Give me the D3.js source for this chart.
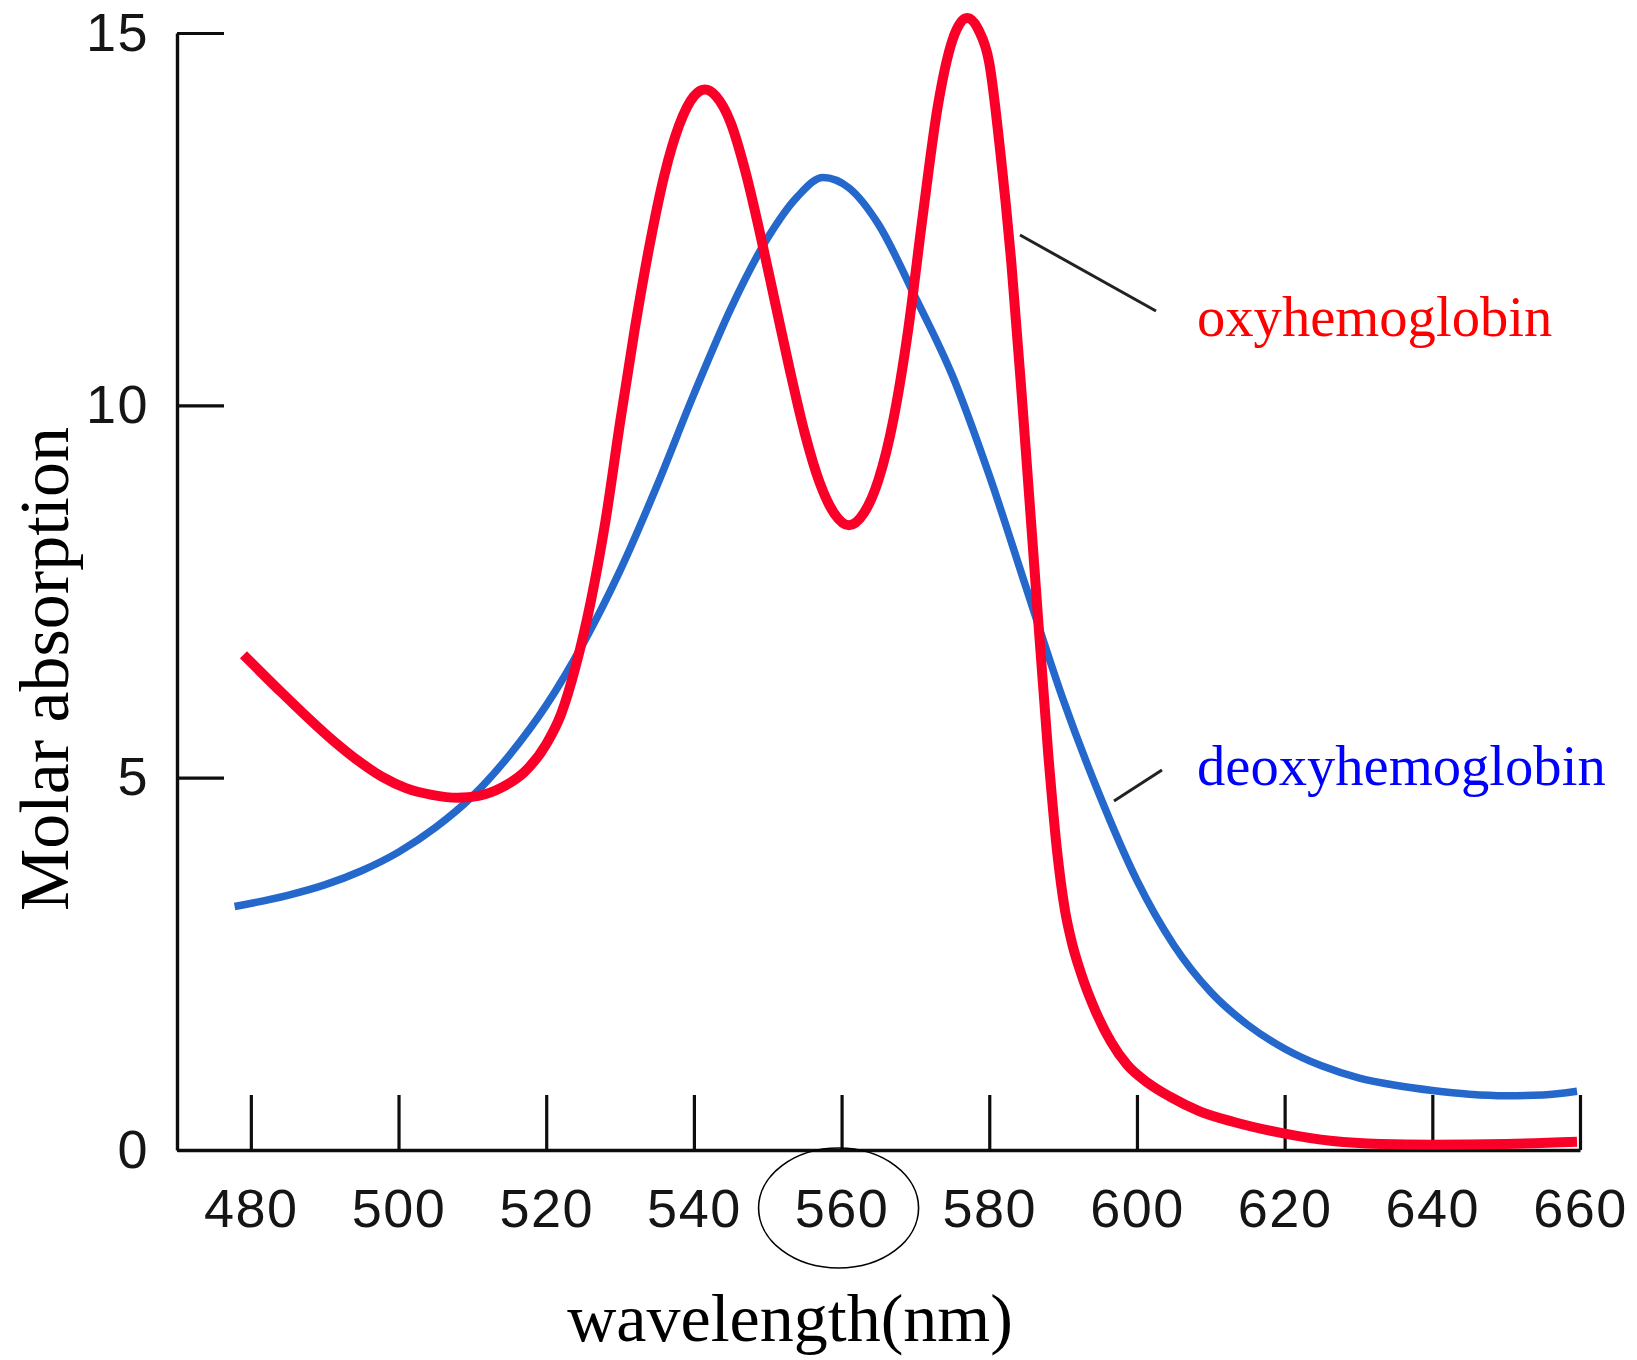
<!DOCTYPE html>
<html>
<head>
<meta charset="utf-8">
<script src="https://cdn.jsdelivr.net/npm/d3@7"></script>
<style>
  html, body { margin: 0; padding: 0; background: #ffffff; }
  svg { display: block; }
</style>
</head>
<body>
<svg id="chart" width="1637" height="1360"></svg>
<script>
// ---- data ----
const oxyWavelengths = [479, 484.2, 491, 494.5, 497.8, 501, 504.5, 508, 511, 514, 517, 520, 522, 524, 526, 528, 530, 532, 534, 536, 538, 540, 541.5, 543, 545, 547, 549, 551, 553, 555, 557, 559, 561, 563, 565, 567, 569, 571, 573, 575, 577, 578.5, 580, 581.5, 583, 584.5, 586.2, 588, 589.2, 590.2, 591.2, 592.4, 594.5, 596.5, 598.7, 601.5, 604.4, 608.5, 613, 619.5, 626.5, 633, 640, 650, 659.6];
const oxyValues = [6.65, 6.14, 5.51, 5.23, 5.01, 4.86, 4.77, 4.73, 4.76, 4.87, 5.07, 5.45, 5.85, 6.5, 7.35, 8.43, 9.77, 11.03, 12.15, 13.09, 13.76, 14.15, 14.24, 14.15, 13.79, 13.13, 12.29, 11.38, 10.47, 9.63, 8.97, 8.55, 8.39, 8.55, 9.0, 9.8, 11.0, 12.55, 14.0, 14.9, 15.2, 15.05, 14.6, 13.4, 11.9, 10.0, 7.7, 5.3, 4.0, 3.25, 2.78, 2.38, 1.84, 1.45, 1.14, 0.90, 0.72, 0.52, 0.38, 0.23, 0.12, 0.08, 0.07, 0.08, 0.11];

const deoxyWavelengths = [477.8, 485, 490, 495, 500, 505, 510, 515, 520, 525, 530, 535, 540, 545, 550, 554, 557.5, 561, 565, 570, 575, 580, 585, 590, 595, 600, 605, 610, 615, 620, 625, 630, 635, 640, 645, 650, 655, 659.6];
const deoxyValues = [3.27, 3.42, 3.56, 3.75, 4.00, 4.33, 4.75, 5.30, 5.97, 6.80, 7.78, 8.92, 10.15, 11.30, 12.25, 12.80, 13.06, 12.92, 12.43, 11.45, 10.40, 9.06, 7.55, 6.05, 4.75, 3.62, 2.75, 2.12, 1.68, 1.36, 1.13, 0.97, 0.87, 0.80, 0.75, 0.73, 0.74, 0.79];

const xTicks = [480, 500, 520, 540, 560, 580, 600, 620, 640, 660];
const yTicks = [0, 5, 10, 15];
const seriesNames = ["oxyhemoglobin", "deoxyhemoglobin"];
const xTitle = "wavelength(nm)";
const yTitle = "Molar absorption";
const circledTick = 560;

// ---- layout ----
const svg = d3.select("#chart");
const x = d3.scaleLinear().domain([470, 660]).range([177, 1580]);
const y = d3.scaleLinear().domain([0, 15]).range([1150, 33]);

const serif = "'Liberation Serif', 'Times New Roman', serif";
const sans = "'Liberation Sans', Arial, sans-serif";

// axes
const xAxis = d3.axisBottom(x).tickValues(xTicks).tickSize(-55).tickSizeOuter(0).tickPadding(39).tickFormat(d3.format("d"));
const gx = svg.append("g").attr("transform", `translate(0,${y(0)})`).call(xAxis);
const yAxis = d3.axisLeft(y).tickValues(yTicks).tickSize(-47).tickSizeOuter(0).tickPadding(28).tickFormat(d3.format("d"));
const gy = svg.append("g").attr("transform", `translate(${x(470)},0)`).call(yAxis);

[gx, gy].forEach(g => {
  g.select(".domain").attr("stroke", "#0d0d0d").attr("stroke-width", 3.4);
  g.selectAll(".tick line").attr("stroke", "#0d0d0d").attr("stroke-width", 3.2);
  g.selectAll(".tick text").attr("fill", "#151515").style("font-family", sans).style("font-size", "54px").style("letter-spacing", "1.5px");
});

// curves
const line = d3.line().x(d => x(d[0])).y(d => y(d[1])).curve(d3.curveMonotoneX);
const deoxy = deoxyWavelengths.map((w, i) => [w, deoxyValues[i]]);
const oxy = oxyWavelengths.map((w, i) => [w, oxyValues[i]]);

svg.append("path").datum(deoxy).attr("d", line).attr("fill", "none")
  .attr("stroke", "#2468cc").attr("stroke-width", 7.5).attr("stroke-linecap", "butt");
svg.append("path").datum(oxy).attr("d", line).attr("fill", "none")
  .attr("stroke", "#fa0028").attr("stroke-width", 10).attr("stroke-linecap", "butt");

// leader lines & labels
svg.append("line").attr("x1", 1020).attr("y1", 235).attr("x2", 1156).attr("y2", 311)
  .attr("stroke", "#222").attr("stroke-width", 3);
svg.append("line").attr("x1", 1114).attr("y1", 801).attr("x2", 1162).attr("y2", 770)
  .attr("stroke", "#222").attr("stroke-width", 3);

svg.append("text").attr("x", 1197).attr("y", 336).text(seriesNames[0])
  .attr("fill", "#ff0000").style("font-family", serif).style("font-size", "56.6px");
svg.append("text").attr("x", 1197).attr("y", 785).text(seriesNames[1])
  .attr("fill", "#0000ff").style("font-family", serif).style("font-size", "56.6px");

// axis titles
svg.append("text").attr("x", 790).attr("y", 1341).attr("text-anchor", "middle").text(xTitle)
  .attr("fill", "#000").style("font-family", serif).style("font-size", "68px");
svg.append("text").attr("transform", "translate(68,669) rotate(-90)").attr("text-anchor", "middle").text(yTitle)
  .attr("fill", "#000").style("font-family", serif).style("font-size", "70px");

// circle around the 560 tick label
svg.append("ellipse").attr("cx", x(circledTick) - 3).attr("cy", 1208).attr("rx", 80).attr("ry", 60)
  .attr("fill", "none").attr("stroke", "#000").attr("stroke-width", 1.6);
</script>
</body>
</html>
